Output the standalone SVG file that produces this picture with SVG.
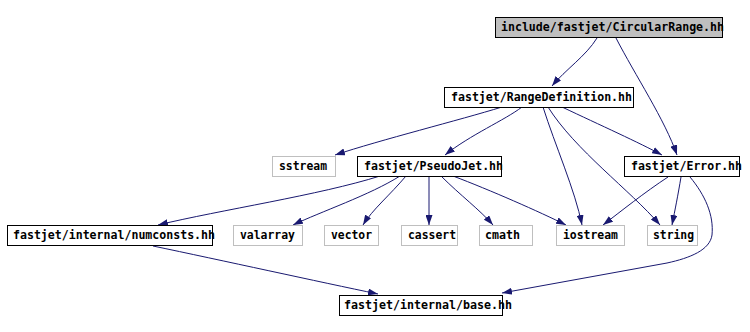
<svg xmlns="http://www.w3.org/2000/svg" width="750" height="332" viewBox="0 0 750 332">
<defs>
<marker id="arr" markerUnits="userSpaceOnUse" viewBox="0 0 10 7" refX="10" refY="3.5" markerWidth="10" markerHeight="7" orient="auto">
<path d="M0,0 L10,3.5 L0,7 z" fill="#191970"/>
</marker>
<style>
.box{fill:#ffffff;stroke:#000000;stroke-width:1}
.sys{fill:#ffffff;stroke:#bfbfbf;stroke-width:1}
.root{fill:#bfbfbf;stroke:#000000;stroke-width:1}
text{font-family:"DejaVu Sans Mono","Liberation Mono",monospace;font-size:11.6px;font-weight:bold;fill:#000000}
.e{fill:none;stroke:#191970;stroke-width:1;marker-end:url(#arr)}
</style>
</defs>
<rect width="750" height="332" fill="#ffffff"/>
<g id="connectors">
<path class="e" d="M597,38 C586,56 565,70 552,86"/>
<path class="e" d="M616,38 C635,75 665,120 677,155"/>
<path class="e" d="M502,107 C460,120 380,140 335,155"/>
<path class="e" d="M522,107 C505,120 470,135 445,155"/>
<path class="e" d="M543,107 C555,145 575,190 582,225"/>
<path class="e" d="M548,107 C575,150 630,190 660,225"/>
<path class="e" d="M562,107 C600,125 640,143 662,155"/>
<path class="e" d="M380,176 C320,195 220,210 158,225"/>
<path class="e" d="M400,176 C370,195 320,212 293,225"/>
<path class="e" d="M406,176 C390,195 372,210 363,225"/>
<path class="e" d="M429,176 L429,225"/>
<path class="e" d="M441,176 C460,195 480,210 493,225"/>
<path class="e" d="M453,176 C490,190 540,212 566,225"/>
<path class="e" d="M668,177 C645,192 620,212 603,225"/>
<path class="e" d="M681,177 C678,195 675,210 672,225"/>
<path class="e" d="M690,177 C705,195 714,215 712,235 C710,250 690,258 667,263 L502,293"/>
<path class="e" d="M153,246 C220,260 320,282 378,294"/>
</g>
<g id="n0"><rect class="root" x="495.5" y="17.5" width="227" height="20"/><text x="501" y="31" textLength="223" lengthAdjust="spacingAndGlyphs">include/fastjet/CircularRange.hh</text></g>
<g id="n1"><rect class="box" x="444.5" y="87.5" width="189" height="20"/><text x="451" y="101" textLength="181" lengthAdjust="spacingAndGlyphs">fastjet/RangeDefinition.hh</text></g>
<g id="n2"><rect class="sys" x="272.5" y="156.5" width="63" height="20"/><text x="279" y="170" textLength="48" lengthAdjust="spacingAndGlyphs">sstream</text></g>
<g id="n3"><rect class="box" x="357.5" y="156.5" width="144" height="20"/><text x="364" y="170" textLength="139" lengthAdjust="spacingAndGlyphs">fastjet/PseudoJet.hh</text></g>
<g id="n4"><rect class="box" x="624.5" y="156.5" width="115" height="20"/><text x="631" y="170" textLength="111" lengthAdjust="spacingAndGlyphs">fastjet/Error.hh</text></g>
<g id="n5"><rect class="box" x="7.5" y="225.5" width="205" height="20"/><text x="13" y="239" textLength="202" lengthAdjust="spacingAndGlyphs">fastjet/internal/numconsts.hh</text></g>
<g id="n6"><rect class="sys" x="233.5" y="225.5" width="69" height="20"/><text x="240" y="239" textLength="55" lengthAdjust="spacingAndGlyphs">valarray</text></g>
<g id="n7"><rect class="sys" x="324.5" y="225.5" width="54" height="20"/><text x="331" y="239" textLength="41" lengthAdjust="spacingAndGlyphs">vector</text></g>
<g id="n8"><rect class="sys" x="401.5" y="225.5" width="56" height="20"/><text x="408" y="239" textLength="48" lengthAdjust="spacingAndGlyphs">cassert</text></g>
<g id="n9"><rect class="sys" x="479.5" y="225.5" width="53" height="20"/><text x="485" y="239" textLength="35" lengthAdjust="spacingAndGlyphs">cmath</text></g>
<g id="n10"><rect class="sys" x="556.5" y="225.5" width="68" height="20"/><text x="563" y="239" textLength="55" lengthAdjust="spacingAndGlyphs">iostream</text></g>
<g id="n11"><rect class="sys" x="647.5" y="225.5" width="50" height="20"/><text x="653" y="239" textLength="41" lengthAdjust="spacingAndGlyphs">string</text></g>
<g id="n12"><rect class="box" x="339.5" y="295.5" width="163" height="20"/><text x="344" y="309" textLength="168" lengthAdjust="spacingAndGlyphs">fastjet/internal/base.hh</text></g>
</svg>
